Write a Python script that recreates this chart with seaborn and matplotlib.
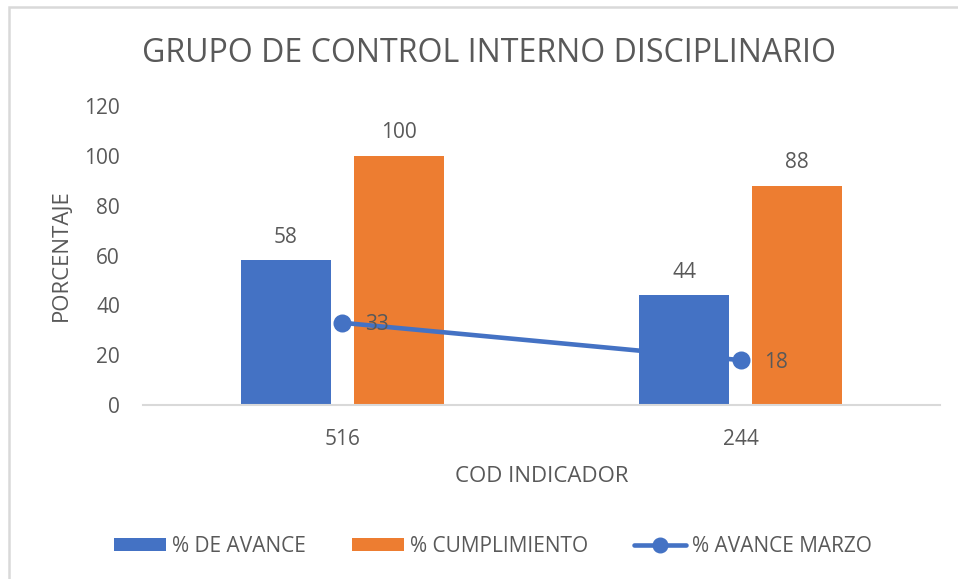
import matplotlib
matplotlib.use("Agg")
import matplotlib.pyplot as plt
import seaborn as sns
import pandas as pd
from matplotlib.patches import Rectangle, Patch
from matplotlib.lines import Line2D

categories = ["516", "244"]
avance = [58, 44]
cumplimiento = [100, 88]
avance_marzo = [33, 18]
series_names = ["% DE AVANCE", "% CUMPLIMIENTO", "% AVANCE MARZO"]
title = "GRUPO DE CONTROL INTERNO DISCIPLINARIO"
y_ticks = [0, 20, 40, 60, 80, 100, 120]

BLUE = "#4472C4"
ORANGE = "#ED7D31"
GRAY = "#595959"

sns.set_theme(style="white")
plt.rcParams["font.family"] = ["Open Sans", "DejaVu Sans"]

bars_df = pd.DataFrame({
    "cod": categories * 2,
    "valor": avance + cumplimiento,
    "serie": [series_names[0]] * 2 + [series_names[1]] * 2,
})
line_df = pd.DataFrame({"cod": categories, "valor": avance_marzo})

fig = plt.figure(figsize=(9.58, 5.79), dpi=100)
ax = fig.add_axes([143 / 958, 1 - 405 / 579, (940 - 143) / 958, (405 - 106) / 579])

sns.barplot(data=bars_df, x="cod", y="valor", hue="serie", order=categories,
            hue_order=series_names[:2], palette=[BLUE, ORANGE],
            width=0.567, gap=0.204, saturation=1, ax=ax, legend=False,
            edgecolor="none")

sns.pointplot(data=line_df, x="cod", y="valor", order=categories, color=BLUE,
              markers="o", markersize=10.5, linewidth=3.3, ax=ax)

for cont in ax.containers:
    ax.bar_label(cont, padding=9, fontsize=15, color=GRAY)

for i, v in enumerate(avance_marzo):
    ax.annotate(str(v), (i, v), xytext=(16.5, -1.5), textcoords="offset points",
                ha="left", va="center", fontsize=15, color=GRAY, zorder=5)

ax.set_ylim(0, 120)
ax.set_xlim(-0.5, 1.5)
ax.set_yticks(y_ticks)
ax.tick_params(axis="both", length=0, labelsize=15, labelcolor=GRAY)
ax.tick_params(axis="x", pad=17)
ax.tick_params(axis="y", pad=16.5)
for s in ["top", "right", "left"]:
    ax.spines[s].set_visible(False)
ax.spines["bottom"].set_color("#D9D9D9")
ax.spines["bottom"].set_linewidth(1.5)
ax.grid(False)

ax.set_xlabel("COD INDICADOR", fontsize=16, color=GRAY, labelpad=12)
ax.set_ylabel("PORCENTAJE", fontsize=16, color=GRAY, labelpad=9)

fig.text(489 / 958, 1 - 53 / 579, title, ha="center", va="center",
         fontsize=23.1, color=GRAY)

handles = [
    Patch(facecolor=BLUE, edgecolor="none"),
    Patch(facecolor=ORANGE, edgecolor="none"),
    Line2D([0], [0], color=BLUE, lw=3.3, marker="o", markersize=10.5),
]
fig.legend(handles, series_names, loc="center", bbox_to_anchor=(493 / 958, 1 - 546 / 579),
           ncol=3, frameon=False, fontsize=15, labelcolor=GRAY,
           handlelength=2.5, handleheight=0.6, columnspacing=2.2, handletextpad=0.3)

fig.patches.append(Rectangle((9 / 958, -0.05), 1.2, 1.05 - 7 / 579,
                             transform=fig.transFigure, fill=False,
                             edgecolor="#D9D9D9", linewidth=1.8))

fig.savefig("out.png", dpi=100)
